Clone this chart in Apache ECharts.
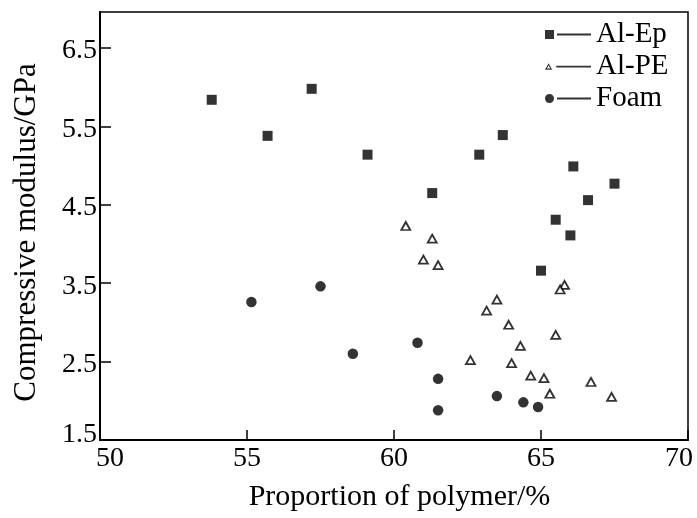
<!DOCTYPE html>
<html>
<head>
<meta charset="utf-8">
<script src="https://cdn.jsdelivr.net/npm/echarts@6/dist/echarts.min.js"></script>
<style>
  html, body { margin: 0; padding: 0; background: #fff; }
  #chart { width: 697px; height: 518px; }
</style>
</head>
<body>
<div id="chart"></div>
<script>
// Proportion of polymer (%) and compressive modulus (GPa) for each material
const alEpX = [53.8, 55.7, 57.2, 59.1, 61.3, 62.9, 63.7, 66.1, 67.5, 66.6, 65.5, 66.0, 65.0];
const alEpY = [5.84, 5.38, 5.98, 5.14, 4.65, 5.14, 5.39, 4.99, 4.77, 4.56, 4.31, 4.11, 3.66];

const alPeX = [60.4, 61.3, 61.0, 61.5, 65.8, 65.65, 63.5, 63.15, 63.9, 65.5, 64.3, 62.6, 64.0, 64.65, 65.1, 65.3, 66.7, 67.4];
const alPeY = [4.23, 4.07, 3.80, 3.73, 3.48, 3.42, 3.29, 3.15, 2.97, 2.84, 2.70, 2.52, 2.48, 2.32, 2.29, 2.09, 2.24, 2.05];

const foamX = [55.15, 57.5, 58.6, 60.8, 61.5, 61.5, 63.5, 64.4, 64.9];
const foamY = [3.26, 3.46, 2.60, 2.74, 2.28, 1.88, 2.06, 1.98, 1.92];

const seriesNames = ['Al-Ep', 'Al-PE', 'Foam'];
const xTicks = [50, 55, 60, 65, 70];
const yTicks = [1.5, 2.5, 3.5, 4.5, 5.5, 6.5];

const pairs = (xs, ys) => xs.map((x, i) => [x, ys[i]]);
const FONT = '"Liberation Serif", "Times New Roman", serif';

// Legend icons: marker followed by a short line segment
const iconSquare = 'path://M0,0h9v9h-9Z M12,3.6h34v1.8h-34Z';
const iconTriangle = 'path://M1,8.5L4.5,2L8,8.5Z M2.9,7.3L6.1,7.3L4.5,4.3Z M12,4.4h34v1.8h-34Z';
const iconCircle = 'path://M0,4.5a4.5,4.5 0 1,0 9,0a4.5,4.5 0 1,0 -9,0Z M12,3.6h34v1.8h-34Z';

const chart = echarts.init(document.getElementById('chart'), null, { renderer: 'canvas' });

const tickLabelStyle = { fontFamily: FONT, fontSize: 28, color: '#000' };

chart.setOption({
  backgroundColor: '#fff',
  animation: false,
  grid: {
    left: 100, right: 9, top: 12, bottom: 78,
    show: true, borderColor: '#000', borderWidth: 1.5, backgroundColor: 'transparent'
  },
  legend: {
    left: 545, top: 20, orient: 'vertical', padding: 0,
    itemWidth: 46, itemHeight: 9, itemGap: 3,
    textStyle: { fontFamily: FONT, fontSize: 29, color: '#000' },
    data: [
      { name: seriesNames[0], icon: iconSquare, itemStyle: { color: '#000', borderWidth: 0 } },
      { name: seriesNames[1], icon: iconTriangle, itemStyle: { color: '#000', borderWidth: 0 } },
      { name: seriesNames[2], icon: iconCircle, itemStyle: { color: '#000', borderWidth: 0 } }
    ]
  },
  xAxis: {
    type: 'value', min: 50, max: 70, interval: 5,
    name: 'Proportion of polymer/%', nameLocation: 'middle', nameGap: 42,
    nameTextStyle: { fontFamily: FONT, fontSize: 30, color: '#000', padding: [0, 0, 0, 11] },
    axisLine: { show: true, lineStyle: { color: '#000', width: 2 } },
    axisTick: { show: true, inside: true, length: 10, lineStyle: { color: '#000', width: 1.5 }, customValues: xTicks },
    axisLabel: Object.assign({}, tickLabelStyle, {
      margin: 5,
      customValues: xTicks,
      formatter: v => v === 50 ? '{first|50}' : (v === 70 ? '{last|70}' : String(v)),
      rich: {
        first: Object.assign({}, tickLabelStyle, { padding: [0, 0, 0, 20] }),
        last: Object.assign({}, tickLabelStyle, { padding: [0, 18, 0, 0] })
      }
    }),
    splitLine: { show: false }
  },
  yAxis: {
    type: 'value', min: 1.5, max: 6.96, interval: 1,
    name: 'Compressive modulus/GPa', nameLocation: 'middle', nameGap: 58,
    nameTextStyle: { fontFamily: FONT, fontSize: 31, color: '#000', padding: [0, 13, 0, 0] },
    axisLine: { show: true, lineStyle: { color: '#000', width: 2 } },
    axisTick: { show: true, inside: true, length: 11, lineStyle: { color: '#000', width: 1.5 }, customValues: yTicks },
    axisLabel: Object.assign({}, tickLabelStyle, {
      margin: 3,
      customValues: yTicks,
      formatter: v => v === 1.5 ? '{low|1.5}' : '{mid|' + v.toFixed(1) + '}',
      rich: {
        low: Object.assign({}, tickLabelStyle, { padding: [0, 0, 10, 0] }),
        mid: Object.assign({}, tickLabelStyle, { padding: [6, 0, 0, 0] })
      }
    }),
    splitLine: { show: false }
  },
  series: [
    {
      name: seriesNames[0], type: 'scatter', symbol: 'rect', symbolSize: 10,
      itemStyle: { color: '#000' },
      data: pairs(alEpX, alEpY)
    },
    {
      name: seriesNames[1], type: 'scatter', symbol: 'triangle', symbolSize: [9, 8],
      itemStyle: { color: '#fff', borderColor: '#000', borderWidth: 1.8 },
      data: pairs(alPeX, alPeY)
    },
    {
      name: seriesNames[2], type: 'scatter', symbol: 'circle', symbolSize: 10.5,
      itemStyle: { color: '#000' },
      data: pairs(foamX, foamY)
    }
  ]
});
</script>
</body>
</html>
